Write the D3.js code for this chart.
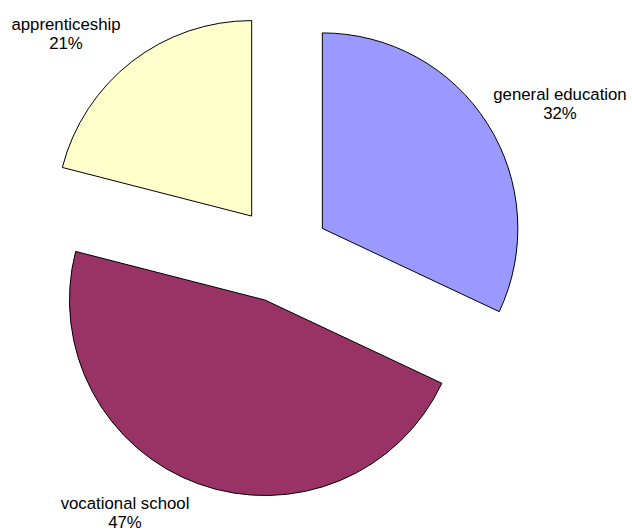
<!DOCTYPE html>
<html>
<head>
<meta charset="utf-8">
<script src="https://cdn.jsdelivr.net/npm/d3@7/dist/d3.min.js"></script>
<style>
  html, body { margin: 0; padding: 0; background: #fff; }
  svg { display: block; }
  text { font-family: "Liberation Sans", Arial, sans-serif; font-size: 16.8px; fill: #000; }
</style>
</head>
<body>
<svg id="chart" width="632" height="532"></svg>
<script>
// Share of students by type of upper-secondary education (%)
const categories = ["general education", "vocational school", "apprenticeship"];
const shares = [32, 47, 21];
const sliceColors = ["#9999FF", "#993366", "#FFFFCC"];

// Layout
const width = 632, height = 532;
const center = [281.4, 254.4];
const radius = 195.5;
const explode = 48.5;
// label anchor (centre of first line's baseline) per category
const labelAnchors = {
  "general education": [560, 100],
  "vocational school": [125, 509],
  "apprenticeship": [66, 30]
};
const lineGap = 19;

const svg = d3.select("#chart");

const pie = d3.pie().sort(null).value(d => d.value).startAngle(0).endAngle(2 * Math.PI);
const arc = d3.arc().innerRadius(0).outerRadius(radius);

const data = categories.map((c, i) => ({ name: c, value: shares[i], color: sliceColors[i] }));
const arcs = pie(data);

const slices = svg.append("g").attr("class", "slices");
slices.selectAll("path")
  .data(arcs)
  .join("path")
  .attr("transform", d => {
    const mid = (d.startAngle + d.endAngle) / 2;
    const x = center[0] + explode * Math.sin(mid);
    const y = center[1] - explode * Math.cos(mid);
    return `translate(${x},${y})`;
  })
  .attr("d", arc)
  .attr("fill", d => d.data.color)
  .attr("stroke", "#000")
  .attr("stroke-width", 1)
  .attr("stroke-linejoin", "miter");

const labels = svg.append("g").attr("class", "labels");
const lbl = labels.selectAll("text")
  .data(arcs)
  .join("text")
  .attr("text-anchor", "middle")
  .attr("x", d => labelAnchors[d.data.name][0])
  .attr("y", d => labelAnchors[d.data.name][1]);
lbl.append("tspan")
  .attr("x", d => labelAnchors[d.data.name][0])
  .text(d => d.data.name);
lbl.append("tspan")
  .attr("x", d => labelAnchors[d.data.name][0])
  .attr("dy", lineGap)
  .text(d => d.data.value + "%");
</script>
</body>
</html>
